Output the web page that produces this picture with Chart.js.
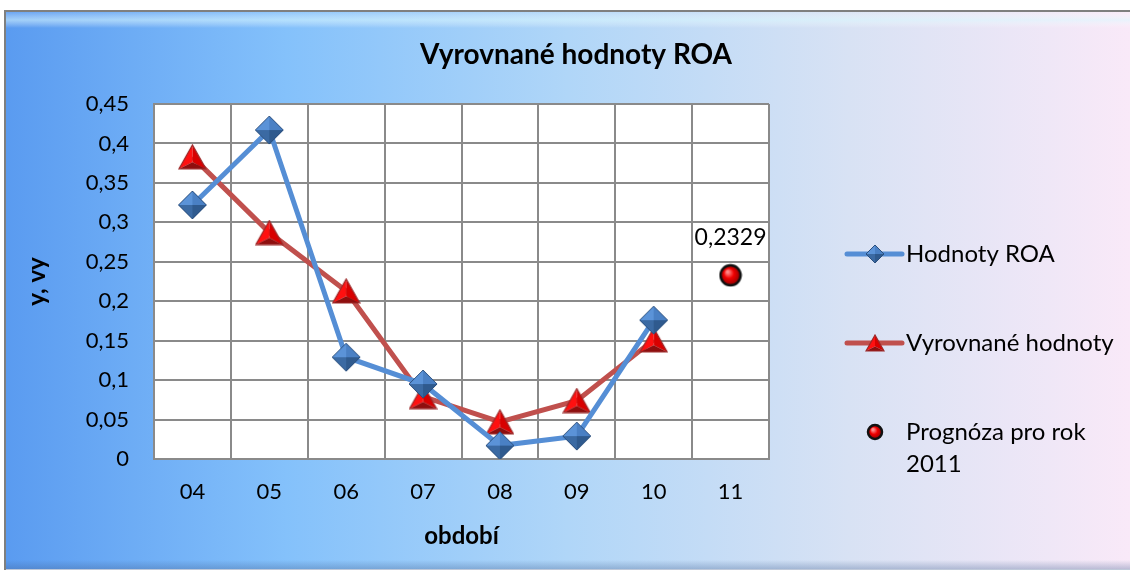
<!DOCTYPE html>
<html lang="cs">
<head>
<meta charset="utf-8">
<title>Vyrovnané hodnoty ROA</title>
<script src="https://cdn.jsdelivr.net/npm/chart.js@4.4.0/dist/chart.umd.min.js"></script>
<style>
  html, body { margin: 0; padding: 0; background: #fff; }
  #obal { position: relative; width: 1130px; height: 574px; }
</style>
</head>
<body>
<div id="obal"><canvas id="graf" width="1130" height="574"></canvas></div>
<script>
// data
const obdobi = ['04', '05', '06', '07', '08', '09', '10', '11'];
const hodnotyROA = [0.322, 0.417, 0.129, 0.095, 0.017, 0.029, 0.176, null];
const vyrovnaneHodnoty = [0.383, 0.287, 0.213, 0.079, 0.047, 0.074, 0.151, null];
const prognoza = [null, null, null, null, null, null, null, 0.2329];
const yMin = 0;
const yMax = 0.45;
const yKrok = 0.05;

const nazvySerii = ['Hodnoty ROA', 'Vyrovnané hodnoty', 'Prognóza pro rok 2011'];
const FONT = 'Lato, "Open Sans", sans-serif';

function ceskeCislo(v) {
  return String(+v.toFixed(4)).replace('.', ',');
}

// znacky s "3D" stínováním
function znackaKosoctverec(r) {
  const c = document.createElement('canvas');
  c.width = c.height = 2 * r + 2;
  const g = c.getContext('2d');
  const s = r + 1;
  const plocha = (body, barva) => {
    g.beginPath();
    g.moveTo(body[0][0], body[0][1]);
    for (let i = 1; i < body.length; i++) g.lineTo(body[i][0], body[i][1]);
    g.closePath();
    g.fillStyle = barva;
    g.fill();
  };
  plocha([[s, s], [s - r, s], [s, s - r]], '#5b93d8');
  plocha([[s, s], [s, s - r], [s + r, s]], '#4a80c4');
  plocha([[s, s], [s + r, s], [s, s + r]], '#2f5a8e');
  plocha([[s, s], [s, s + r], [s - r, s]], '#3b6aa3');
  g.beginPath();
  g.moveTo(s - r, s); g.lineTo(s, s - r); g.lineTo(s + r, s); g.lineTo(s, s + r); g.closePath();
  g.strokeStyle = '#2b4f7e';
  g.lineWidth = 1;
  g.stroke();
  return c;
}

function znackaTrojuhelnik(r) {
  const w = Math.round(r * 1.8), h = Math.round(r * 1.6);
  const c = document.createElement('canvas');
  c.width = w + 2; c.height = h + 2;
  const g = c.getContext('2d');
  const top = [w / 2 + 1, 1], vl = [1, h + 1], vp = [w + 1, h + 1], st = [w / 2 + 1, h * 0.72 + 1];
  const plocha = (body, barva) => {
    g.beginPath();
    g.moveTo(body[0][0], body[0][1]);
    for (let i = 1; i < body.length; i++) g.lineTo(body[i][0], body[i][1]);
    g.closePath();
    g.fillStyle = barva;
    g.fill();
  };
  plocha([top, vl, st], '#ff1010');
  plocha([top, st, vp], '#d80000');
  plocha([vl, vp, st], '#8e0e0e');
  g.beginPath();
  g.moveTo(top[0], top[1]); g.lineTo(vl[0], vl[1]); g.lineTo(vp[0], vp[1]); g.closePath();
  g.strokeStyle = '#9b2a2a';
  g.lineWidth = 1.2;
  g.stroke();
  return c;
}

function znackaKoule(r) {
  const c = document.createElement('canvas');
  c.width = c.height = 2 * r + 4;
  const g = c.getContext('2d');
  const s = r + 2;
  const grad = g.createRadialGradient(s - r * 0.3, s - r * 0.35, 1, s, s, r);
  grad.addColorStop(0, '#ff8a8a');
  grad.addColorStop(0.45, '#f00000');
  grad.addColorStop(1, '#900000');
  g.beginPath();
  g.arc(s, s, r, 0, Math.PI * 2);
  g.fillStyle = grad;
  g.fill();
  g.lineWidth = 2.5;
  g.strokeStyle = '#111';
  g.stroke();
  return c;
}

const kosoctverec = znackaKosoctverec(14);
const trojuhelnik = znackaTrojuhelnik(15);
const koule = znackaKoule(10);

// pozadí a plocha grafu
const pozadi = {
  id: 'pozadi',
  beforeDraw(chart) {
    const ctx = chart.ctx;
    const a = chart.chartArea;
    ctx.save();
    ctx.fillStyle = '#fff';
    ctx.fillRect(0, 0, chart.width, chart.height);
    const grad = ctx.createLinearGradient(5, 0, chart.width, 0);
    grad.addColorStop(0, '#5a9bf0');
    grad.addColorStop(0.25, '#84c1fb');
    grad.addColorStop(0.5, '#b0d6f8');
    grad.addColorStop(0.75, '#d8e2f4');
    grad.addColorStop(1, '#f9e9f8');
    ctx.fillStyle = grad;
    ctx.fillRect(5, 11, chart.width - 5, 558);
    // světlý pruh nahoře
    const pruh = ctx.createLinearGradient(0, 12, 0, 28);
    pruh.addColorStop(0, 'rgba(255,255,255,0.1)');
    pruh.addColorStop(0.5, 'rgba(220,250,255,0.55)');
    pruh.addColorStop(1, 'rgba(255,255,255,0)');
    ctx.fillStyle = pruh;
    ctx.fillRect(5, 12, chart.width - 5, 16);
    const spodek = ctx.createLinearGradient(0, 560, 0, 570);
    spodek.addColorStop(0, 'rgba(60,90,140,0)');
    spodek.addColorStop(1, 'rgba(60,90,140,0.35)');
    ctx.fillStyle = spodek;
    ctx.fillRect(5, 560, chart.width - 5, 10);
    ctx.strokeStyle = '#7f7f7f';
    ctx.lineWidth = 2;
    ctx.beginPath();
    ctx.moveTo(5, chart.height - 4);
    ctx.lineTo(5, 11);
    ctx.lineTo(chart.width, 11);
    ctx.stroke();
    ctx.fillStyle = '#fff';
    ctx.fillRect(a.left, a.top, a.right - a.left, a.bottom - a.top);
    ctx.restore();
  }
};

// nadpis, popisek prognózy a legenda
const popisky = {
  id: 'popisky',
  afterDraw(chart) {
    const ctx = chart.ctx;
    ctx.save();
    ctx.fillStyle = '#000';
    ctx.textAlign = 'center';
    ctx.textBaseline = 'middle';
    ctx.font = 'bold 28px ' + FONT;
    ctx.fillText('Vyrovnané hodnoty ROA', 576, 55);

    const bod = chart.getDatasetMeta(2).data[7];
    ctx.font = '23px ' + FONT;
    ctx.fillText(ceskeCislo(prognoza[7]), bod.x, bod.y - 38);

    // legenda
    ctx.textAlign = 'left';
    ctx.font = '24px ' + FONT;
    const lx = 847, mx = 875, tx = 906;
    const radky = [254, 343];
    const barvy = ['#558ed5', '#c0504d'];
    for (let i = 0; i < 2; i++) {
      ctx.strokeStyle = barvy[i];
      ctx.lineWidth = 5;
      ctx.lineCap = 'round';
      ctx.beginPath();
      ctx.moveTo(lx, radky[i]);
      ctx.lineTo(lx + 55, radky[i]);
      ctx.stroke();
      const z = i === 0 ? znackaKosoctverec(9) : znackaTrojuhelnik(10);
      ctx.drawImage(z, mx - z.width / 2, radky[i] - z.height / 2);
      ctx.fillText(nazvySerii[i], tx, radky[i]);
    }
    const k = znackaKoule(7);
    ctx.drawImage(k, mx - k.width / 2, 432 - k.height / 2);
    ctx.fillText('Prognóza pro rok', tx, 432);
    ctx.fillText('2011', tx, 464);
    ctx.restore();
  }
};

Chart.defaults.font.family = FONT;
Chart.defaults.color = '#000';

const ctx = document.getElementById('graf').getContext('2d');

const graf = new Chart(ctx, {
  type: 'line',
  data: {
    labels: obdobi,
    datasets: [{
      label: nazvySerii[0],
      data: hodnotyROA,
      borderColor: '#558ed5',
      borderWidth: 5,
      pointStyle: kosoctverec,
      pointRadius: 14,
      tension: 0
    },
    {
      label: nazvySerii[1],
      data: vyrovnaneHodnoty,
      borderColor: '#c0504d',
      borderWidth: 5,
      pointStyle: trojuhelnik,
      pointRadius: 15,
      tension: 0
    },
    {
      label: nazvySerii[2],
      data: prognoza,
      showLine: false,
      pointStyle: koule,
      pointRadius: 10
    }]
  },
  options: {
    responsive: false,
    animation: false,
    events: [],
    layout: {
      padding: { left: 20, top: 104, right: 361, bottom: 15 }
    },
    plugins: {
      legend: { display: false },
      title: { display: false },
      tooltip: { enabled: false }
    },
    scales: {
      x: {
        offset: true,
        grid: { offset: true, color: '#8a8a8a', lineWidth: 2, drawTicks: false },
        border: { color: '#8a8a8a', width: 2 },
        ticks: { padding: 20, font: { size: 22 } },
        title: {
          display: true,
          text: 'období',
          font: { size: 24, weight: 'bold' },
          padding: 8
        },
        afterFit(scale) { scale.height = 100; }
      },
      y: {
        min: yMin,
        max: yMax,
        grid: { color: '#8a8a8a', lineWidth: 2, drawTicks: false },
        border: { color: '#8a8a8a', width: 2 },
        ticks: {
          stepSize: yKrok,
          padding: 25,
          font: { size: 22 },
          callback: v => ceskeCislo(v)
        },
        title: {
          display: true,
          text: 'y, vy',
          font: { size: 24, weight: 'bold' },
          padding: 3
        },
        afterFit(scale) { scale.width = 134; }
      }
    }
  },
  plugins: [pozadi, popisky]
});
</script>
</body>
</html>
